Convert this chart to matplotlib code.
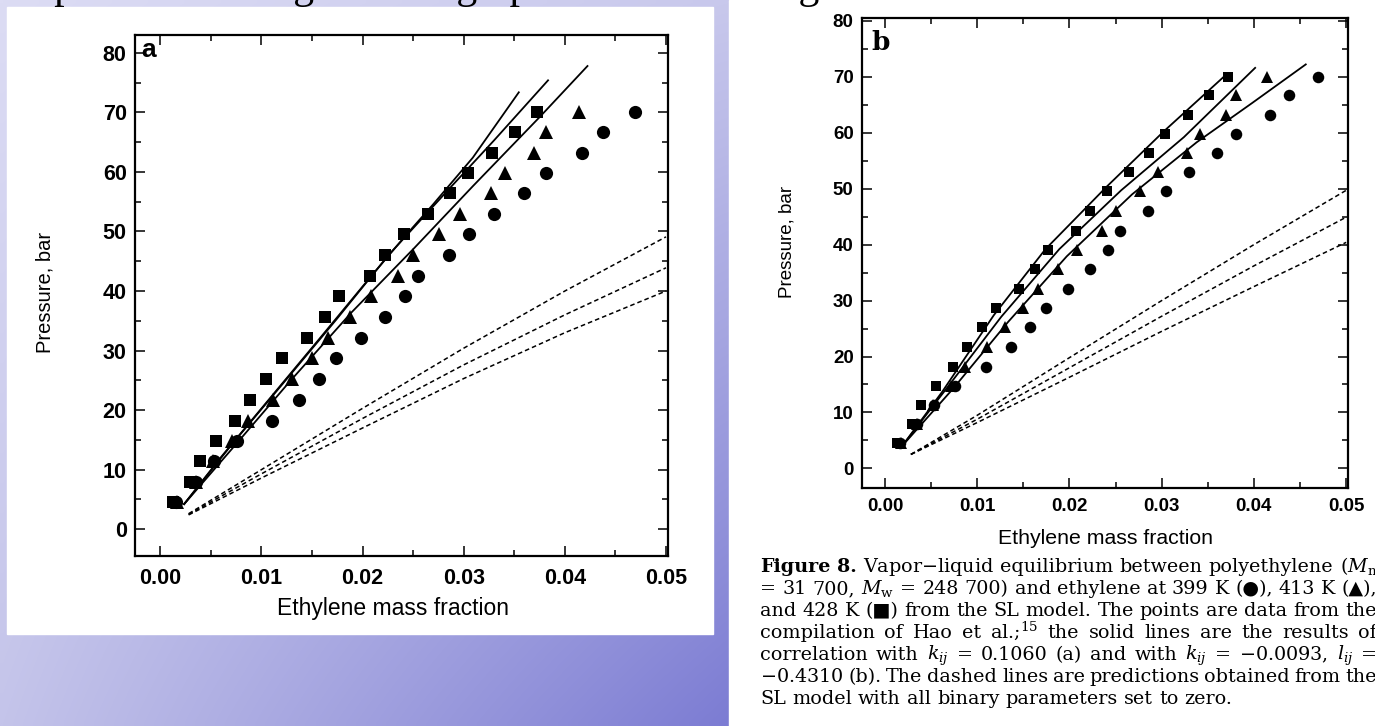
import numpy as np
import matplotlib
matplotlib.use("Agg")
import matplotlib.pyplot as plt
from matplotlib.patches import Rectangle
from matplotlib.ticker import MultipleLocator

# ---------------- data ----------------
pressure = [4.6, 8.0, 11.4, 14.8, 18.2, 21.7, 25.3, 28.7, 32.1, 35.6,
            39.1, 42.5, 46.0, 49.5, 52.9, 56.4, 59.8, 63.2, 66.7, 70.0]
x_428 = [0.0013, 0.0029, 0.0039, 0.0055, 0.0074, 0.0089, 0.0105, 0.0120, 0.0145, 0.0163,
         0.0177, 0.0207, 0.0222, 0.0241, 0.0265, 0.0286, 0.0304, 0.0328, 0.0351, 0.0372]
x_413 = [0.0017, 0.0035, 0.0052, 0.0071, 0.0087, 0.0111, 0.0130, 0.0150, 0.0166, 0.0188,
         0.0208, 0.0235, 0.0250, 0.0276, 0.0296, 0.0327, 0.0341, 0.0370, 0.0381, 0.0414]
x_399 = [0.0016, 0.0035, 0.0053, 0.0076, 0.0110, 0.0137, 0.0157, 0.0174, 0.0198, 0.0222,
         0.0242, 0.0255, 0.0285, 0.0305, 0.0330, 0.0360, 0.0381, 0.0417, 0.0438, 0.0469]

# panel a: correlation (solid) with k_ij only
a_fit428_x = [0.0023, 0.0060, 0.0106, 0.0155, 0.0208, 0.0243, 0.0270, 0.0309, 0.0355]
a_fit428_y = [4.1, 12.1, 21.5, 31.5, 42.4, 49.4, 54.6, 62.4, 73.5]
a_fit413_x = [0.0023, 0.0072, 0.0117, 0.0174, 0.0226, 0.0288, 0.0330, 0.0384]
a_fit413_y = [4.1, 14.5, 23.6, 35.2, 46.1, 57.6, 65.3, 75.5]
a_fit399_x = [0.0023, 0.0076, 0.0128, 0.0189, 0.0251, 0.0309, 0.0375, 0.0423]
a_fit399_y = [4.1, 14.5, 24.8, 36.4, 47.2, 57.6, 69.2, 77.9]

# panel b: correlation (solid) with k_ij and l_ij
b_fit428_x = [0.0019, 0.0062, 0.0118, 0.0174, 0.0240, 0.0302, 0.0370]
b_fit428_y = [4.1, 13.7, 27.4, 39.2, 50.3, 60.2, 70.4]
b_fit413_x = [0.0019, 0.0070, 0.0126, 0.0189, 0.0256, 0.0324, 0.0402]
b_fit413_y = [4.1, 15.0, 27.1, 39.2, 49.7, 59.2, 71.7]
b_fit399_x = [0.0019, 0.0074, 0.0133, 0.0197, 0.0268, 0.0338, 0.0398, 0.0457]
b_fit399_y = [4.1, 14.3, 26.1, 37.9, 49.0, 58.3, 65.3, 72.3]

# predictions with zero binary parameters (dashed)
pred_x = [0.0028, 0.01, 0.02, 0.03, 0.04, 0.05]
a_pred428_y = [2.6, 10.0, 20.3, 30.4, 40.0, 49.1]
a_pred413_y = [2.5, 9.3, 18.6, 27.6, 36.0, 43.9]
a_pred399_y = [2.4, 8.6, 17.0, 25.3, 33.0, 40.0]
b_pred428_y = [2.5, 9.5, 19.8, 30.0, 40.0, 49.7]
b_pred413_y = [2.5, 8.8, 18.0, 27.2, 36.2, 44.9]
b_pred399_y = [2.5, 8.2, 16.3, 24.5, 32.5, 40.4]

x_ticks = [0.00, 0.01, 0.02, 0.03, 0.04, 0.05]
x_ticklabels = ["0.00", "0.01", "0.02", "0.03", "0.04", "0.05"]
y_ticks = [0, 10, 20, 30, 40, 50, 60, 70, 80]

title_text = "Experiment fitting and the graph in SL modeling"
xlabel_text = "Ethylene mass fraction"
ylabel_text = "Pressure, bar"
caption_lines = [
    r"Figure 8. Vapor$-$liquid equilibrium between polyethylene ($M_{\mathrm{n}}$",
    r"= 31 700, $M_{\mathrm{w}}$ = 248 700) and ethylene at 399 K (●), 413 K (▲),",
    r"and 428 K (■) from the SL model. The points are data from the",
    r"compilation of Hao et al.;$^{15}$ the solid lines are the results of",
    r"correlation with $k_{ij}$ = 0.1060 (a) and with $k_{ij}$ = $-$0.0093, $l_{ij}$ =",
    r"$-$0.4310 (b). The dashed lines are predictions obtained from the",
    r"SL model with all binary parameters set to zero.",
]

# ---------------- figure ----------------
plt.rcParams["mathtext.fontset"] = "dejavuserif"
W, H = 1375, 726
fig = plt.figure(figsize=(W / 100, H / 100), dpi=100)


def rect(l, t, r, b):
    return [l / W, 1 - b / H, (r - l) / W, (b - t) / H]


bg = fig.add_axes([0, 0, 1, 1])
bg.set_axis_off()
u = np.linspace(0, 1, 120)
U, V = np.meshgrid(u, u)
TL = np.array([220, 220, 244]); TR = np.array([200, 200, 236])
BL = np.array([196, 196, 234]); BR = np.array([124, 124, 211])
img = ((1 - U) * (1 - V))[..., None] * TL + (U * (1 - V))[..., None] * TR \
    + ((1 - U) * V)[..., None] * BL + (U * V)[..., None] * BR
bg.imshow(img / 255.0, extent=[0, 732, H, 0], aspect="auto", interpolation="bilinear")
bg.set_xlim(0, W)
bg.set_ylim(H, 0)
bg.add_patch(Rectangle((729, 0), W - 729, H, color="white", zorder=2))
bg.add_patch(Rectangle((7, 7), 706, 627, color="white", zorder=2))
bg.text(8, -2, title_text, fontsize=30, family="Liberation Serif", va="baseline",
        ha="left", zorder=3, clip_on=False)

sans = "Liberation Sans"


def style_axis(ax, tick_size, ylims, pad):
    ax.set_xlim(-0.0025, 0.0502)
    ax.set_ylim(*ylims)
    ax.set_xticks(x_ticks)
    ax.set_xticklabels(x_ticklabels)
    ax.set_yticks(y_ticks)
    ax.xaxis.set_minor_locator(MultipleLocator(0.005))
    ax.yaxis.set_minor_locator(MultipleLocator(5))
    ax.tick_params(which="both", direction="in", top=True, right=True, width=1.1)
    ax.tick_params(which="major", length=7, labelsize=tick_size, pad=6)
    ax.tick_params(axis="x", which="major", pad=pad)
    ax.tick_params(which="minor", length=4)
    for lab in ax.get_xticklabels() + ax.get_yticklabels():
        lab.set_family(sans)
        lab.set_fontweight("bold")
    for s in ax.spines.values():
        s.set_linewidth(1.6)
    ax.patch.set_alpha(0)


def draw_panel(ax, fits, preds, msize):
    for (fx, fy) in fits:
        ax.plot(fx, fy, color="black", lw=1.3, solid_capstyle="butt")
    for py in preds:
        ax.plot(pred_x, py, color="black", lw=1.1, linestyle=(0, (3, 2)))
    ax.plot(x_399, pressure, "o", color="black", ms=msize, mew=0)
    ax.plot(x_413, pressure, "^", color="black", ms=msize, mew=0)
    ax.plot(x_428, pressure, "s", color="black", ms=msize * 0.95, mew=0)


axa = fig.add_axes(rect(135, 35, 668, 556))
style_axis(axa, 15.5, (-4.5, 83), 9)
draw_panel(axa, [(a_fit428_x, a_fit428_y), (a_fit413_x, a_fit413_y), (a_fit399_x, a_fit399_y)],
           [a_pred428_y, a_pred413_y, a_pred399_y], 9.5)
axa.text(0.012, 0.995, "a", transform=axa.transAxes, va="top", ha="left",
         fontsize=19, family=sans, fontweight="bold")

axb = fig.add_axes(rect(862, 18, 1348, 488))
style_axis(axb, 13.5, (-3.5, 80.5), 7)
draw_panel(axb, [(b_fit428_x, b_fit428_y), (b_fit413_x, b_fit413_y), (b_fit399_x, b_fit399_y)],
           [b_pred428_y, b_pred413_y, b_pred399_y], 8.3)
axb.text(0.02, 0.975, "b", transform=axb.transAxes, va="top", ha="left",
         fontsize=19, family="DejaVu Serif", fontweight="bold")

# axis labels
fig.text(45 / W, 1 - 292 / H, ylabel_text, rotation=90, ha="center", va="center",
         fontsize=14.5, family=sans)
fig.text(393 / W, 1 - 608 / H, xlabel_text, ha="center", va="center", fontsize=16.5, family=sans)
fig.text(787 / W, 1 - 242 / H, ylabel_text, rotation=90, ha="center", va="center",
         fontsize=13.5, family=sans)
fig.text(1105 / W, 1 - 538 / H, xlabel_text, ha="center", va="center", fontsize=15.3, family=sans)

# caption, justified line by line
renderer = fig.canvas.get_renderer()
cap_kw = dict(fontsize=13.8, family=["DejaVu Serif", "DejaVu Sans"], va="baseline", ha="left")
x0, x1 = 760, 1377
base0, step = 572, 22
probe = fig.text(0, 0, "n n", **cap_kw)
probe2 = fig.text(0, 0, "nn", **cap_kw)
space_w = probe.get_window_extent(renderer).width - probe2.get_window_extent(renderer).width
probe.remove(); probe2.remove()
for i, line in enumerate(caption_lines):
    words = line.split(" ")
    texts, widths = [], []
    for j, w in enumerate(words):
        kw = dict(cap_kw)
        if i == 0 and j < 2:
            kw["fontweight"] = "bold"
        t = fig.text(0, 0, w, **kw)
        texts.append(t)
        widths.append(t.get_window_extent(renderer).width)
    last = i == len(caption_lines) - 1
    gap = space_w if last else max((x1 - x0 - sum(widths)) / (len(words) - 1), 0.5 * space_w)
    x = x0
    y = base0 + i * step
    for t, wd in zip(texts, widths):
        t.set_position((x / W, 1 - y / H))
        x += wd + gap

fig.savefig("out.png", dpi=100)
